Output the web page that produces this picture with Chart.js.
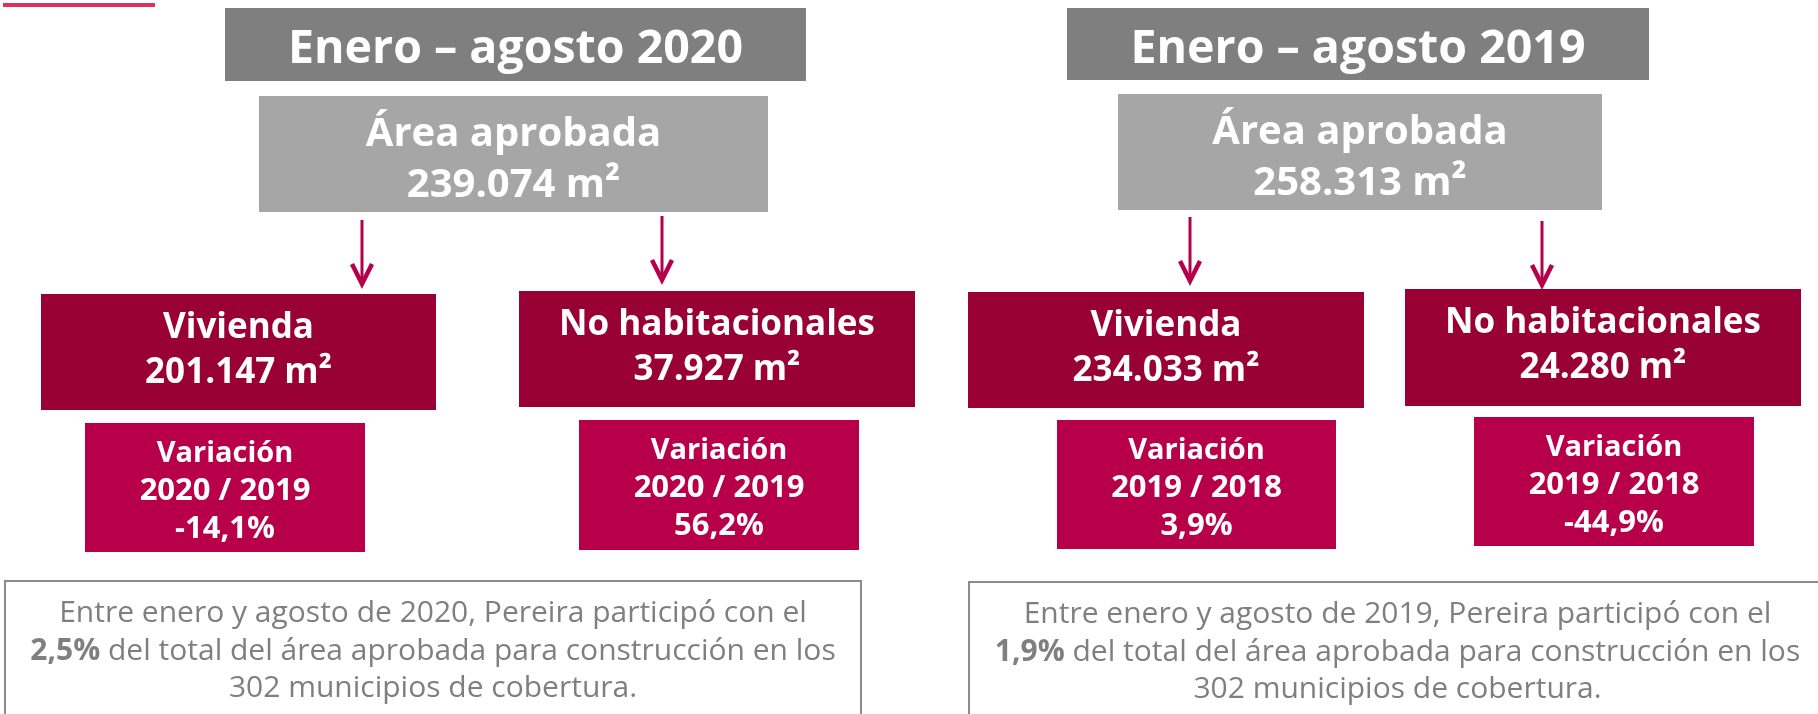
<!DOCTYPE html>
<html lang="es">
<head>
<meta charset="utf-8">
<title>Área aprobada - Pereira</title>
<script src="https://cdn.jsdelivr.net/npm/chart.js@4.4.1/dist/chart.umd.min.js"></script>
<style>
    html, body { margin: 0; padding: 0; background: #fff; }
    #wrap { width: 1818px; height: 714px; }
</style>
</head>
<body>
<div id="wrap"><canvas id="myChart" width="1818" height="714"></canvas></div>
<script>
// values
const periods = ["Enero – agosto 2020", "Enero – agosto 2019"];
const totalArea = [239074, 258313];
const categories = ["Vivienda", "No habitacionales"];
const viviendaArea = [201147, 234033];
const noHabArea = [37927, 24280];
const variationPeriods = ["2020 / 2019", "2019 / 2018"];
const viviendaVariation = [-14.1, 3.9];
const noHabVariation = [56.2, -44.9];
const participation = [2.5, 1.9];
const noteYears = ["2020", "2019"];
const municipios = 302;

// layout of each panel, in canvas units [x1, y1, x2, y2]
const panels = [
    {
        title: [225, 8, 806, 81],
        area: [259, 96, 768, 212],
        viv: [41, 294, 436, 410],
        nohab: [519, 291, 915, 407],
        varViv: [85, 423, 365, 552],
        varNohab: [579, 420, 859, 550],
        note: [5, 581, 861, 722],
        arrows: [[362, 220, 286], [662, 216, 282]],
    },
    {
        title: [1067, 8, 1649, 80],
        area: [1118, 94, 1602, 210],
        viv: [968, 292, 1364, 408],
        nohab: [1405, 289, 1801, 406],
        varViv: [1057, 420, 1336, 549],
        varNohab: [1474, 417, 1754, 546],
        note: [969, 582, 1826, 722],
        arrows: [[1190, 217, 283], [1542, 221, 287]],
    },
];

const colors = {
    title: "#7f7f7f",
    area: "#a6a6a6",
    dark: "#990033",
    variation: "#b8004a",
    arrow: "#b5004c",
    note: "#7f7f7f",
    border: "#8c8c8c",
    accent: "#e0315d",
};

const FONT = "'Open Sans', 'Noto Sans', sans-serif";

const fmtArea = (v) => String(v).replace(/\B(?=(\d{3})+(?!\d))/g, ".") + " m²";
const fmtPct = (v) => v.toFixed(1).replace(".", ",") + "%";

const boxesPlugin = {
    id: "boxes",
    afterDraw(chart) {
        const ctx = chart.ctx;
        const sx = chart.scales.x;
        const sy = chart.scales.y;
        const X = (v) => sx.getPixelForValue(v);
        const Y = (v) => sy.getPixelForValue(v);

        const rect = (b, fill) => {
            ctx.fillStyle = fill;
            ctx.fillRect(X(b[0]), Y(b[1]), X(b[2]) - X(b[0]), Y(b[3]) - Y(b[1]));
        };
        // rows: [text or parts, baseline offset from top, font size]
        const lines = (b, rows, color, weight) => {
            const cx = (X(b[0]) + X(b[2])) / 2;
            rows.forEach(([content, off, size]) => {
                const parts = typeof content === "string" ? [{ t: content, bold: weight === "bold" }] : content;
                let total = 0;
                parts.forEach((p) => {
                    ctx.font = `${p.bold ? "bold" : "normal"} ${size}px ${FONT}`;
                    p.w = ctx.measureText(p.t).width;
                    total += p.w;
                });
                let x = cx - total / 2;
                ctx.fillStyle = color;
                ctx.textAlign = "left";
                ctx.textBaseline = "alphabetic";
                parts.forEach((p) => {
                    ctx.font = `${p.bold ? "bold" : "normal"} ${size}px ${FONT}`;
                    ctx.fillText(p.t, x, Y(b[1]) + off);
                    x += p.w;
                });
            });
        };

        ctx.save();
        // accent mark top-left
        ctx.fillStyle = colors.accent;
        ctx.fillRect(X(3), Y(3), X(155) - X(3), 4);

        panels.forEach((p, i) => {
            rect(p.title, colors.title);
            lines(p.title, [[periods[i], 55, 46.5]], "#fff", "bold");

            rect(p.area, colors.area);
            lines(p.area, [["Área aprobada", 50, 40], [fmtArea(totalArea[i]), 101, 40]], "#fff", "bold");

            p.arrows.forEach(([ax, y1, y2]) => {
                ctx.strokeStyle = colors.arrow;
                ctx.lineWidth = 3;
                ctx.beginPath();
                ctx.moveTo(X(ax), Y(y1));
                ctx.lineTo(X(ax), Y(y2) - 3);
                ctx.stroke();
                ctx.lineWidth = 4.5;
                ctx.lineJoin = "miter";
                ctx.beginPath();
                ctx.moveTo(X(ax) - 10, Y(y2) - 22);
                ctx.lineTo(X(ax), Y(y2) - 2);
                ctx.lineTo(X(ax) + 10, Y(y2) - 22);
                ctx.stroke();
            });

            rect(p.viv, colors.dark);
            lines(p.viv, [[categories[0], 44, 35], [fmtArea(viviendaArea[i]), 89, 35]], "#fff", "bold");
            rect(p.nohab, colors.dark);
            lines(p.nohab, [[categories[1], 44, 35], [fmtArea(noHabArea[i]), 89, 35]], "#fff", "bold");

            rect(p.varViv, colors.variation);
            lines(p.varViv, [["Variación", 39, 29], [variationPeriods[i], 77, 31], [fmtPct(viviendaVariation[i]), 115, 31]], "#fff", "bold");
            rect(p.varNohab, colors.variation);
            lines(p.varNohab, [["Variación", 39, 29], [variationPeriods[i], 77, 31], [fmtPct(noHabVariation[i]), 115, 31]], "#fff", "bold");

            // note box
            const n = p.note;
            ctx.strokeStyle = colors.border;
            ctx.lineWidth = 2;
            ctx.strokeRect(X(n[0]), Y(n[1]), X(n[2]) - X(n[0]), Y(n[3]) - Y(n[1]));
            lines(n, [
                [`Entre enero y agosto de ${noteYears[i]}, Pereira participó con el`, 41, 30],
                [[{ t: fmtPct(participation[i]), bold: true }, { t: " del total del área aprobada para construcción en los", bold: false }], 79, 30],
                [`${municipios} municipios de cobertura.`, 116, 30],
            ], colors.note, "normal");
        });
        ctx.restore();
    },
};

var canvas = document.getElementById("myChart");
var ctx = canvas.getContext("2d");
var myChart = new Chart(ctx, {
    type: "scatter",
    data: { datasets: [] },
    options: {
        responsive: false,
        animation: false,
        events: [],
        layout: { padding: 0 },
        plugins: { legend: { display: false }, tooltip: { enabled: false } },
        scales: {
            x: { type: "linear", min: 0, max: 1818, display: false },
            y: { type: "linear", min: 0, max: 714, reverse: true, display: false },
        },
    },
    plugins: [boxesPlugin],
});
</script>
</body>
</html>
